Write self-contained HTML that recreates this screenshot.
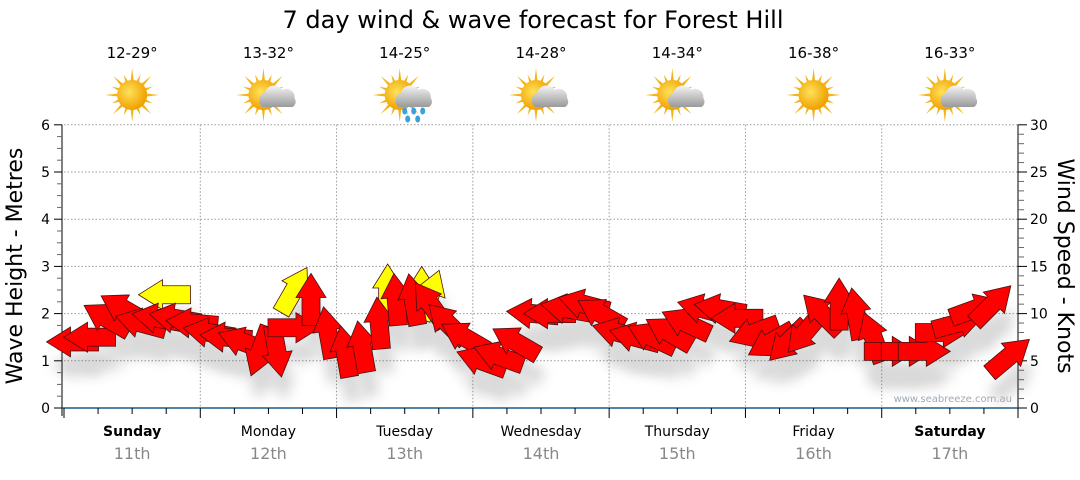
<!DOCTYPE html>
<html><head><meta charset="utf-8"><style>
body{margin:0;background:#fff;width:1080px;height:475px;overflow:hidden;font-family:"Liberation Sans","DejaVu Sans",sans-serif}
svg text{font-family:"DejaVu Sans","Liberation Sans",sans-serif}
</style></head><body>
<svg id="chart" width="1080" height="475" xmlns="http://www.w3.org/2000/svg">
<defs>
<filter id="sh" x="-50%" y="-50%" width="200%" height="200%"><feGaussianBlur stdDeviation="6"/></filter>
<radialGradient id="sunG" cx="40%" cy="40%" r="60%"><stop offset="0" stop-color="#ffe25a"/><stop offset="1" stop-color="#f0a000"/></radialGradient>
<linearGradient id="cloudG" x1="0" y1="0" x2="0" y2="1"><stop offset="0" stop-color="#f4f4f4"/><stop offset="1" stop-color="#9a9a9a"/></linearGradient>
</defs>
<text x="533" y="28" font-size="24" text-anchor="middle" fill="#000">7 day wind &amp; wave forecast for Forest Hill</text>
<g id="grid"></g><g id="axes"></g><g id="icons"></g>
<g id="shadows" opacity="0.2"></g><g id="marks"></g>
<text x="1012" y="402" font-size="10" text-anchor="end" fill="#a0aab4">www.seabreeze.com.au</text>
<text transform="translate(22,266) rotate(-90)" font-size="22" text-anchor="middle">Wave Height - Metres</text>
<text transform="translate(1058,266) rotate(90)" font-size="22" text-anchor="middle">Wind Speed - Knots</text>
</svg>
<script>
const days=["Sunday","Monday","Tuesday","Wednesday","Thursday","Friday","Saturday"];
const dates=["11th","12th","13th","14th","15th","16th","17th"];
const temps=["12-29°","13-32°","14-25°","14-28°","14-34°","16-38°","16-33°"];
const icons=["sun","cloud","rain","cloud","cloud","sun","cloud"];
const windSpeed=[7,7.5,9.5,10.5,9,9.5,9.5,9, 8,7.5,7,6,6,8.5,11.5,8, 6,6.5,9,11.5,11.5,11,9,7.5, 5,5.5,7,10,10,10.5,11,10, 8,7.5,7.5,8,9,10.5,10.5,9.5, 8,7,7,8,10,11,10,7.5, 6,6,6,8,9,10.5,11,5.5];
const windDir=[180,180,150,150,165,170,170,175, 170,175,160,250,280,0,90,100, 100,100,95,95,100,125,135,150, 160,160,150,175,180,170,165,150, 165,165,155,150,155,165,170,180, 200,210,225,230,135,90,100,110, 0,0,0,0,15,20,45,40];
const waveTime=[5.9,13.5,19,21,21.5];
const waveHeight=[2.4,2.5,2.5,2.45,2.4];
const waveDir=[180,60,90,90,70];
const X0=64,X1=1018,Y0=408,PXM=47.2;
const xT=h=>X0+(X1-X0)*h/56;
const yM=m=>Y0-m*PXM; const yK=k=>Y0-k*PXM/5;
const NS="http://www.w3.org/2000/svg";
function mk(t,a,p){const e=document.createElementNS(NS,t);for(const k in a)e.setAttribute(k,a[k]);(p||document.getElementById('chart')).appendChild(e);return e;}
const G=document.getElementById('grid'),A=document.getElementById('axes'),I=document.getElementById('icons'),S=document.getElementById('shadows'),M=document.getElementById('marks');
for(let m=1;m<=6;m++){const l=mk('line',{x1:X0,x2:X1,y1:yM(m),y2:yM(m),stroke:'#999','stroke-dasharray':'1.5,2'},G);

}
for(let d=1;d<7;d++){const x=X0+(X1-X0)*d/7;const l=mk('line',{x1:x,x2:x,y1:yM(6),y2:Y0,stroke:'#999','stroke-dasharray':'1.5,2'},G);

}
mk('line',{x1:X0-2,x2:X0-2,y1:yM(6),y2:Y0+8,stroke:'#000'},A);
mk('line',{x1:X1,x2:X1,y1:yK(30),y2:Y0+1,stroke:'#000'},A);
mk('line',{x1:X0-2,x2:X1,y1:Y0,y2:Y0,stroke:'#1f5c8a','stroke-width':1.5},A);
for(let i=0;i<=24;i++){const y=yM(i/4);mk('line',{x1:X0-2,x2:X0-(i%4?7:10),y1:y,y2:y,stroke:i%4?'#666':'#000'},A);
if(i%4==0){const t=mk('text',{x:X0-14,y:y+5,'font-size':14,'text-anchor':'end',fill:'#000'},A);t.textContent=i/4;

}}
for(let k=0;k<=30;k++){const y=yK(k);mk('line',{x1:X1,x2:X1+(k%5?6:9),y1:y,y2:y,stroke:k%5?'#666':'#000'},A);
if(k%5==0){const t=mk('text',{x:X1+12,y:y+5,'font-size':14,fill:'#000'},A);t.textContent=k;

}}
for(let i=0;i<=28;i++){const x=X0+(X1-X0)*i/28;mk('line',{x1:x,x2:x,y1:Y0,y2:Y0+(i%4?6:10),stroke:'#000'},A);}
const dw=(X1-X0)/7;
days.forEach((d,i)=>{const cx=X0+dw*(i+0.5);const bold=(i==0||i==6);
const t=mk('text',{x:cx,y:436,'font-size':14,'text-anchor':'middle','font-weight':bold?'bold':'normal',fill:'#000'},A);t.textContent=d;


const t2=mk('text',{x:cx,y:459,'font-size':16,'text-anchor':'middle',fill:'#888'},A);t2.textContent=dates[i];


const t3=mk('text',{x:cx,y:58,'font-size':15,'text-anchor':'middle',fill:'#000'},I);t3.textContent=temps[i];


const g=mk('g',{transform:`translate(${cx},95)`},I);


const sx=icons[i]=='sun'?0:-5;
for(let r=0;r<16;r++){const a=r*Math.PI/8,L=r%2?22:27;mk('polygon',{points:`${sx+Math.cos(a)*L},${Math.sin(a)*L} ${sx+Math.cos(a+0.15)*12},${Math.sin(a+0.15)*12} ${sx+Math.cos(a-0.15)*12},${Math.sin(a-0.15)*12}`,fill:'#f2b418'},g);}
mk('circle',{cx:sx,cy:0,r:15,fill:'url(#sunG)'},g);
if(icons[i]!='sun'){mk('path',{d:'M-6,12 a8,8 0 0 1 2,-14 a10,10 0 0 1 18,-3 a8,8 0 0 1 12,8 a6,6 0 0 1 -2,9 z',fill:'url(#cloudG)'},g);}
if(icons[i]=='rain'){[[0,16],[9,16],[18,16],[3,24],[13,24]].forEach(p=>mk('ellipse',{cx:p[0],cy:p[1],rx:2.5,ry:3.5,fill:'#3aa0e0'},g));}
});
function arrowPts(){return [[-26,-9],[2,-9],[2,-15],[26,0],[2,15],[2,9],[-26,9]].map(p=>p.join(',')).join(' ');}
function drawArrow(x,y,deg,color,name){
const sh=mk('polygon',{points:arrowPts(),fill:'#444',filter:'url(#sh)',transform:`translate(${x+4},${y+24}) rotate(${-deg})`},S);


const p=mk('polygon',{points:arrowPts(),fill:color,stroke:'#4a1010','stroke-width':0.8,transform:`translate(${x},${y}) rotate(${-deg})`},M);

}
waveTime.forEach((t,i)=>drawArrow(xT(t),yM(waveHeight[i]),waveDir[i],'#ffff00','wave-arrow'));
windSpeed.forEach((v,i)=>drawArrow(xT(i+0.5),yK(v),windDir[i],'#ff0000','wind-arrow'));
</script>
</body></html>
